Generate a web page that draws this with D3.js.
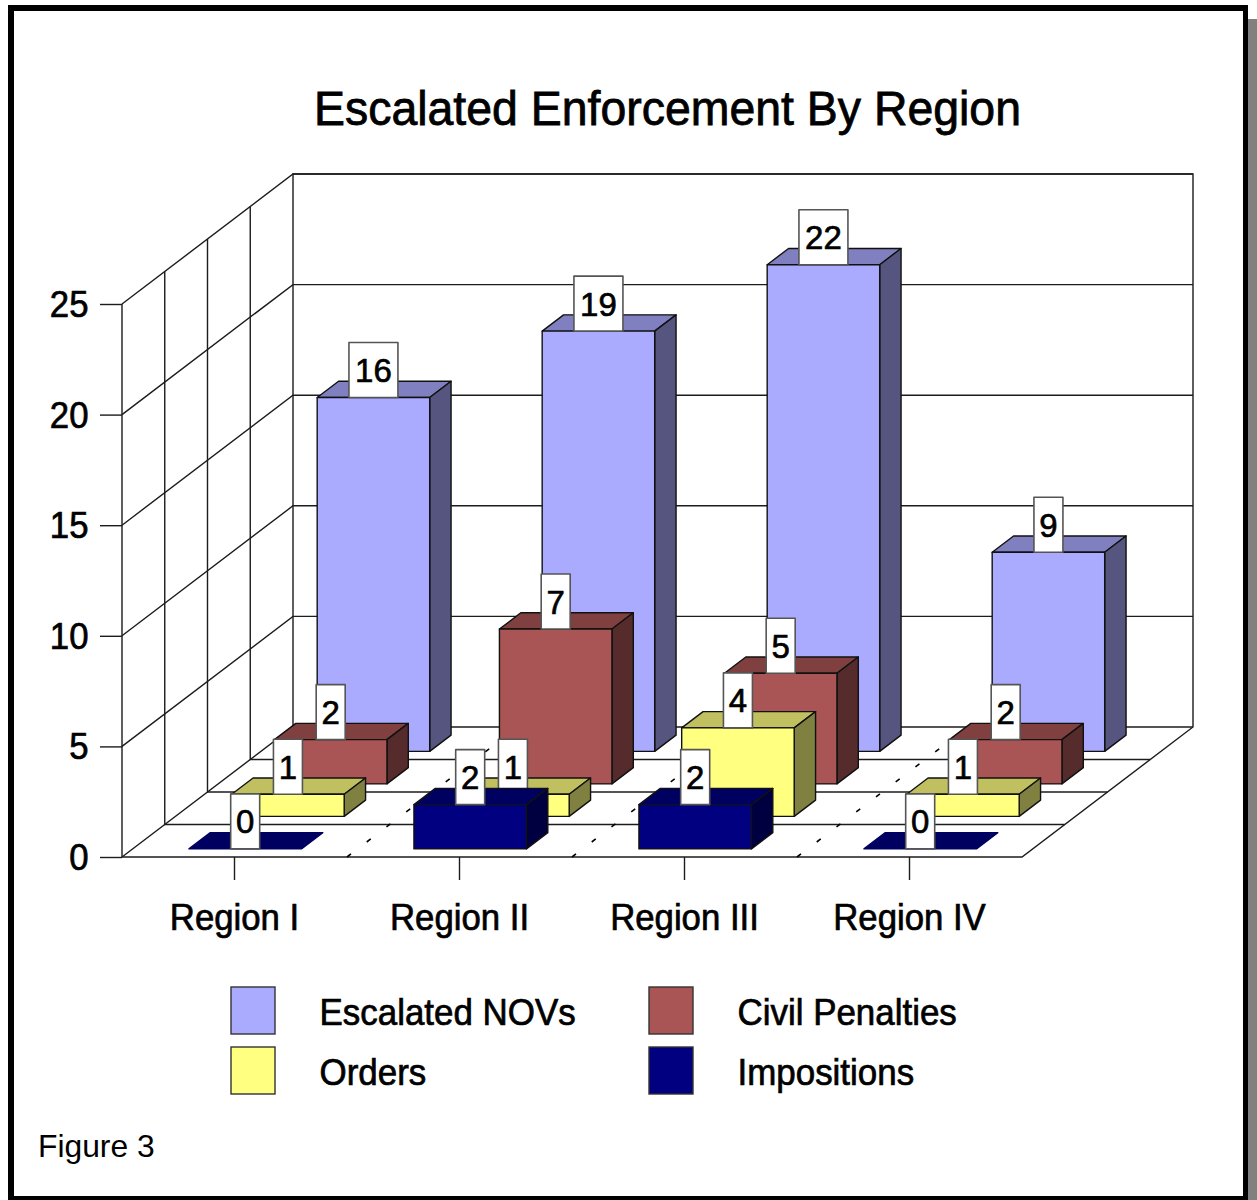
<!DOCTYPE html>
<html>
<head>
<meta charset="utf-8">
<style>
html, body { margin: 0; padding: 0; background: #fff; }
svg { display: block; }
text { font-family: "Liberation Sans", Arial, sans-serif; fill: #000; }
</style>
<script src="https://cdn.jsdelivr.net/npm/d3@7"></script>
</head>
<body>
<svg id="chart" width="1257" height="1200"></svg>
<script>
// Chart data
const regions = ["Region I", "Region II", "Region III", "Region IV"];
const seriesNames = ["Impositions", "Orders", "Civil Penalties", "Escalated NOVs"];
const impositions = [0, 2, 2, 0];
const orders = [1, 1, 4, 1];
const civilPenalties = [2, 7, 5, 2];
const escalatedNovs = [16, 19, 22, 9];
const yTicks = [0, 5, 10, 15, 20, 25];
const legendOrder = ["Escalated NOVs", "Civil Penalties", "Orders", "Impositions"];

const seriesValues = [impositions, orders, civilPenalties, escalatedNovs];
const palette = {
  "Escalated NOVs": { front: "#aaaaff", top: "#8080c0", side: "#555580" },
  "Civil Penalties": { front: "#aa5555", top: "#804040", side: "#552b2b" },
  "Orders": { front: "#ffff80", top: "#c0c060", side: "#808040" },
  "Impositions": { front: "#000080", top: "#000060", side: "#000040" }
};

const svg = d3.select("#chart");
const ink = "#1c1c1c";

// Squeezes text horizontally and thickens it slightly
function heavy(sel, squeeze, weight) {
  sel.each(function () {
    const w = this.getComputedTextLength();
    d3.select(this).attr("textLength", w * squeeze).attr("lengthAdjust", "spacingAndGlyphs");
  });
  sel.attr("stroke", "#000").attr("stroke-width", weight);
}

// Page frame with its drop shadow
svg.append("rect").attr("x", 1248).attr("y", 19).attr("width", 9).attr("height", 1181).attr("fill", "#808080");
svg.append("rect").attr("x", 8).attr("y", 5).attr("width", 1240).attr("height", 1195).attr("fill", "#000");
svg.append("rect").attr("x", 14).attr("y", 11).attr("width", 1229).attr("height", 1185).attr("fill", "#fff");

// Oblique projection: front floor corners plus a constant depth offset
const x = d3.scaleBand().domain(regions).range([122, 1022]);
const y = d3.scaleLinear().domain([0, 25]).range([857, 304]);
const depthX = d3.scaleLinear().domain([0, 4]).range([0, 171]);
const depthY = d3.scaleLinear().domain([0, 4]).range([0, -130]);
const project = (px, value, depth) => [px + depthX(depth), y(value) + depthY(depth)];
const poly = pts => d3.line()(pts) + "Z";

const grid = svg.append("g").attr("fill", "none").attr("stroke", ink).attr("stroke-width", 1.4);
const [x0, x1] = x.range();

// Wall and floor grid
yTicks.forEach(v => {
  grid.append("path").attr("d", d3.line()([project(x0, v, 0), project(x0, v, 4), project(x1, v, 4)]));
});
d3.range(1, 4).forEach(d => {
  grid.append("path").attr("d", d3.line()([project(x0, 25, d), project(x0, 0, d), project(x1, 0, d)]));
});
grid.append("path").attr("d", d3.line()([project(x0, 25, 0), project(x0, 0, 0), project(x1, 0, 0), project(x1, 0, 4), project(x1, 25, 4), project(x0, 25, 4), project(x0, 0, 4)]));
regions.slice(1).forEach(r => {
  grid.append("path").attr("d", d3.line()([project(x(r), 0, 0), project(x(r), 0, 4)]))
    .attr("stroke", "#000").attr("stroke-width", 1.6).attr("stroke-dasharray", "5 19.8");
});

// Axes
const axisY = d3.axisLeft(y).tickValues(yTicks).tickSize(22).tickPadding(11.5).tickFormat(d3.format("d"));
const axisX = d3.axisBottom(x).tickSize(23).tickPadding(24);
const gy = svg.append("g").attr("transform", `translate(${x0},1)`).call(axisY);
const gx = svg.append("g").attr("transform", "translate(0,857)").call(axisX);
[gy, gx].forEach(g => {
  g.select(".domain").remove();
  g.selectAll("line").attr("stroke", ink).attr("stroke-width", 1.4);
  const labels = g.selectAll("text").attr("font-size", 36).attr("fill", "#000").style("font-family", '"Liberation Sans", Arial, sans-serif');
  heavy(labels, 0.965, 0.7);
});
gy.selectAll("line").attr("transform", "translate(0,-1)");

// Bars, painted row by row from the back; each value box belongs to its bar
const barW = x.bandwidth() / 2;
for (let row = 3; row >= 0; row--) {
  const name = seriesNames[row];
  const colors = palette[name];
  const layer = svg.append("g");
  regions.forEach((r, i) => {
    const v = seriesValues[row][i];
    const l = x(r) + x.bandwidth() / 4;
    const d0 = row + 0.25, d1 = row + 0.75;
    const g = layer.append("g").attr("stroke", "#111").attr("stroke-width", 1.4).attr("stroke-linejoin", "round");
    g.append("path").attr("fill", colors.top).attr("stroke", v === 0 ? colors.top : "#111")
      .attr("d", poly([project(l, v, d0), project(l + barW, v, d0), project(l + barW, v, d1), project(l, v, d1)]));
    if (v > 0) {
      g.append("path").attr("fill", colors.side)
        .attr("d", poly([project(l + barW, 0, d0), project(l + barW, v, d0), project(l + barW, v, d1), project(l + barW, 0, d1)]));
      g.append("path").attr("fill", colors.front)
        .attr("d", poly([project(l, 0, d0), project(l + barW, 0, d0), project(l + barW, v, d0), project(l, v, d0)]));
    }
    const [cx, topY] = project(l + barW / 2, v, d0);
    const label = String(v);
    const boxW = label.length > 1 ? 49 : 29;
    g.append("rect").attr("x", cx - boxW / 2).attr("y", topY - 55).attr("width", boxW).attr("height", 55)
      .attr("fill", "#fff").attr("stroke", "#555").attr("stroke-width", 1.6);
    const t = g.append("text").attr("x", cx).attr("y", topY - 15.5).attr("text-anchor", "middle")
      .attr("font-size", 34).text(label);
    heavy(t, 0.97, 0.7);
  });
}

// Title
const title = svg.append("text").attr("x", 667.5).attr("y", 125).attr("text-anchor", "middle")
  .attr("font-size", 48).text("Escalated Enforcement By Region");
heavy(title, 0.967, 0.8);

// Legend
const legendPos = d3.scaleOrdinal().domain(legendOrder).range([[231, 987], [649, 987], [231, 1047], [649, 1047]]);
const legend = svg.append("g");
legendOrder.forEach(n => {
  const [lx, ly] = legendPos(n);
  legend.append("rect").attr("x", lx).attr("y", ly).attr("width", 44).attr("height", 47)
    .attr("fill", palette[n].front).attr("stroke", "#333").attr("stroke-width", 1.4);
  const t = legend.append("text").attr("x", lx + 88.5).attr("y", ly + 37.5).attr("font-size", 36).text(n);
  heavy(t, 0.97, 0.7);
});

// Caption
svg.append("text").attr("x", 38).attr("y", 1157).attr("font-size", 31.8).text("Figure 3");
</script>
</body>
</html>
